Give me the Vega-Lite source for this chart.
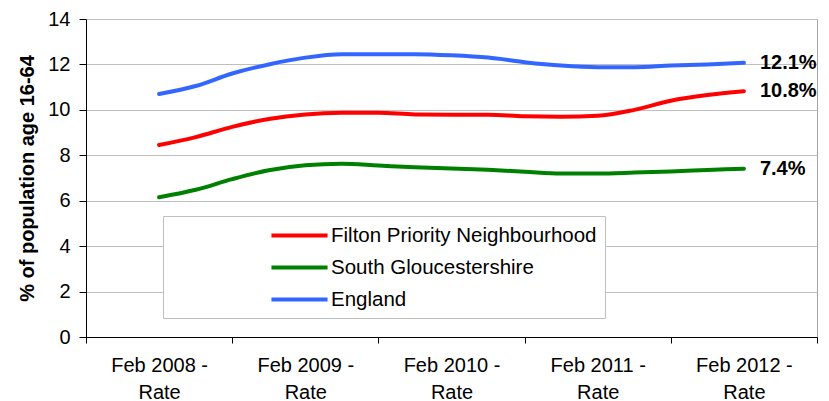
{
  "$schema": "https://vega.github.io/schema/vega-lite/v6.json",
  "autosize": "none",
  "width": 731,
  "height": 318,
  "padding": {"left": 86, "top": 19, "right": 12, "bottom": 64},
  "background": "white",
  "config": {"font": "Liberation Sans", "view": {"stroke": "#A6A6A6"}},
  "datasets": {
    "rates": [
      {"quarter": "Feb 2008", "q": 2, "series": "Filton Priority Neighbourhood", "value": 8.45},
      {"quarter": "May 2008", "q": 3, "series": "Filton Priority Neighbourhood", "value": 8.8},
      {"quarter": "Aug 2008", "q": 4, "series": "Filton Priority Neighbourhood", "value": 9.25},
      {"quarter": "Nov 2008", "q": 5, "series": "Filton Priority Neighbourhood", "value": 9.6},
      {"quarter": "Feb 2009", "q": 6, "series": "Filton Priority Neighbourhood", "value": 9.8},
      {"quarter": "May 2009", "q": 7, "series": "Filton Priority Neighbourhood", "value": 9.87},
      {"quarter": "Aug 2009", "q": 8, "series": "Filton Priority Neighbourhood", "value": 9.87},
      {"quarter": "Nov 2009", "q": 9, "series": "Filton Priority Neighbourhood", "value": 9.8},
      {"quarter": "Feb 2010", "q": 10, "series": "Filton Priority Neighbourhood", "value": 9.79},
      {"quarter": "May 2010", "q": 11, "series": "Filton Priority Neighbourhood", "value": 9.79},
      {"quarter": "Aug 2010", "q": 12, "series": "Filton Priority Neighbourhood", "value": 9.72},
      {"quarter": "Nov 2010", "q": 13, "series": "Filton Priority Neighbourhood", "value": 9.7},
      {"quarter": "Feb 2011", "q": 14, "series": "Filton Priority Neighbourhood", "value": 9.74},
      {"quarter": "May 2011", "q": 15, "series": "Filton Priority Neighbourhood", "value": 10.0},
      {"quarter": "Aug 2011", "q": 16, "series": "Filton Priority Neighbourhood", "value": 10.4},
      {"quarter": "Nov 2011", "q": 17, "series": "Filton Priority Neighbourhood", "value": 10.65},
      {"quarter": "Feb 2012", "q": 18, "series": "Filton Priority Neighbourhood", "value": 10.82},
      {"quarter": "Feb 2008", "q": 2, "series": "South Gloucestershire", "value": 6.15},
      {"quarter": "May 2008", "q": 3, "series": "South Gloucestershire", "value": 6.48},
      {"quarter": "Aug 2008", "q": 4, "series": "South Gloucestershire", "value": 6.95},
      {"quarter": "Nov 2008", "q": 5, "series": "South Gloucestershire", "value": 7.34},
      {"quarter": "Feb 2009", "q": 6, "series": "South Gloucestershire", "value": 7.56},
      {"quarter": "May 2009", "q": 7, "series": "South Gloucestershire", "value": 7.63},
      {"quarter": "Aug 2009", "q": 8, "series": "South Gloucestershire", "value": 7.55},
      {"quarter": "Nov 2009", "q": 9, "series": "South Gloucestershire", "value": 7.47},
      {"quarter": "Feb 2010", "q": 10, "series": "South Gloucestershire", "value": 7.42},
      {"quarter": "May 2010", "q": 11, "series": "South Gloucestershire", "value": 7.36},
      {"quarter": "Aug 2010", "q": 12, "series": "South Gloucestershire", "value": 7.28},
      {"quarter": "Nov 2010", "q": 13, "series": "South Gloucestershire", "value": 7.2},
      {"quarter": "Feb 2011", "q": 14, "series": "South Gloucestershire", "value": 7.2},
      {"quarter": "May 2011", "q": 15, "series": "South Gloucestershire", "value": 7.24},
      {"quarter": "Aug 2011", "q": 16, "series": "South Gloucestershire", "value": 7.29},
      {"quarter": "Nov 2011", "q": 17, "series": "South Gloucestershire", "value": 7.35},
      {"quarter": "Feb 2012", "q": 18, "series": "South Gloucestershire", "value": 7.41},
      {"quarter": "Feb 2008", "q": 2, "series": "England", "value": 10.7},
      {"quarter": "May 2008", "q": 3, "series": "England", "value": 11.05},
      {"quarter": "Aug 2008", "q": 4, "series": "England", "value": 11.6},
      {"quarter": "Nov 2008", "q": 5, "series": "England", "value": 12.0},
      {"quarter": "Feb 2009", "q": 6, "series": "England", "value": 12.3},
      {"quarter": "May 2009", "q": 7, "series": "England", "value": 12.45},
      {"quarter": "Aug 2009", "q": 8, "series": "England", "value": 12.45},
      {"quarter": "Nov 2009", "q": 9, "series": "England", "value": 12.45},
      {"quarter": "Feb 2010", "q": 10, "series": "England", "value": 12.4},
      {"quarter": "May 2010", "q": 11, "series": "England", "value": 12.3},
      {"quarter": "Aug 2010", "q": 12, "series": "England", "value": 12.1},
      {"quarter": "Nov 2010", "q": 13, "series": "England", "value": 11.95},
      {"quarter": "Feb 2011", "q": 14, "series": "England", "value": 11.88},
      {"quarter": "May 2011", "q": 15, "series": "England", "value": 11.88},
      {"quarter": "Aug 2011", "q": 16, "series": "England", "value": 11.95},
      {"quarter": "Nov 2011", "q": 17, "series": "England", "value": 12.0},
      {"quarter": "Feb 2012", "q": 18, "series": "England", "value": 12.07}
    ],
    "ends": [
      {"q": 18, "series": "England", "value": 12.07, "label": "12.1%"},
      {"q": 18, "series": "Filton Priority Neighbourhood", "value": 10.82, "label": "10.8%"},
      {"q": 18, "series": "South Gloucestershire", "value": 7.41, "label": "7.4%"}
    ]
  },
  "layer": [
    {
      "data": {"name": "rates"},
      "mark": {"type": "line", "interpolate": "monotone", "strokeWidth": 4, "strokeCap": "round"},
      "encoding": {
        "x": {
          "field": "q", "type": "quantitative",
          "scale": {"domain": [0, 20], "nice": false, "zero": false},
          "axis": {
            "title": null,
            "values": [0, 2, 4, 6, 8, 10, 12, 14, 16, 18, 20],
            "grid": false,
            "domainColor": "black",
            "tickColor": "black",
            "tickSize": 6,
            "tickOpacity": {"condition": {"test": "datum.value % 4 == 0", "value": 1}, "value": 0},
            "labelExpr": "datum.value % 4 == 2 ? ['Feb ' + (2007 + (datum.value + 2) / 4) + ' -', 'Rate'] : ''",
            "labelFontSize": 20,
            "labelColor": "black",
            "labelPadding": 12,
            "labelLineHeight": 27,
            "labelFlush": false,
            "labelOverlap": false
          }
        },
        "y": {
          "field": "value", "type": "quantitative",
          "scale": {"domain": [0, 14], "nice": false},
          "axis": {
            "title": "% of population age 16-64",
            "titleFontSize": 20,
            "titleFontWeight": "bold",
            "titleColor": "black",
            "titlePadding": 10,
            "values": [0, 2, 4, 6, 8, 10, 12, 14],
            "grid": true,
            "gridColor": "#BFBFBF",
            "domainColor": "black",
            "tickColor": "black",
            "tickSize": 7,
            "labelFontSize": 20,
            "labelColor": "black",
            "labelPadding": 9,
            "labelFlush": false
          }
        },
        "color": {
          "field": "series", "type": "nominal",
          "scale": {
            "domain": ["Filton Priority Neighbourhood", "South Gloucestershire", "England"],
            "range": ["#FF0000", "#008000", "#3366FF"]
          },
          "legend": {
            "title": "\u00a0",
            "titleOrient": "left",
            "titleFontSize": 4,
            "titlePadding": 117,
            "orient": "none",
            "legendX": 77,
            "legendY": 197,
            "padding": 8,
            "fillColor": "white",
            "strokeColor": "#BFBFBF",
            "symbolType": "M-3,0H3",
            "symbolSize": 350,
            "symbolStrokeWidth": 4,
            "labelFontSize": 20.5,
            "labelColor": "black",
            "labelOffset": 20,
            "rowPadding": 10,
            "labelLimit": 0
          }
        }
      }
    },
    {
      "data": {"name": "ends"},
      "mark": {"type": "text", "align": "left", "baseline": "middle", "dx": 16, "fontSize": 20, "fontWeight": "bold", "color": "black"},
      "encoding": {
        "x": {"field": "q", "type": "quantitative"},
        "y": {"field": "value", "type": "quantitative"},
        "text": {"field": "label"}
      }
    }
  ]
}
